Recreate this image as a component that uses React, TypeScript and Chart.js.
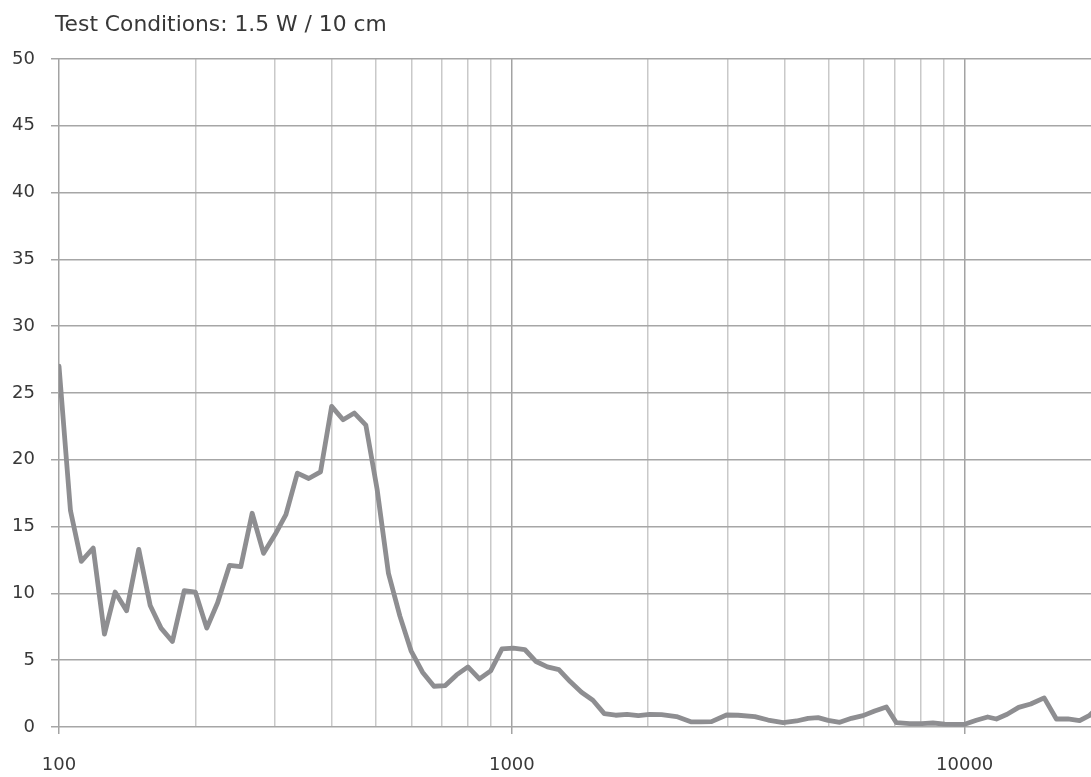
import React, { useEffect, useRef } from "react";
import { Chart, registerables } from "chart.js";

Chart.register(...registerables);

const TITLE = "Test Conditions: 1.5 W / 10 cm";

const freqs: number[] = [
  100, 106, 112, 119, 126, 133, 141, 150, 159, 168, 178, 189,
  200, 212, 224, 238, 252, 267, 283, 300, 317, 336, 356, 378,
  400, 424, 449, 476, 504, 534, 566, 599, 635, 673, 713, 755,
  800, 848, 898, 951, 1008, 1068, 1131, 1198, 1270, 1345, 1425, 1510,
  1600, 1695, 1796, 1903, 2016, 2141, 2310, 2493, 2614, 2760, 2979, 3160,
  3440, 3680, 3972, 4252, 4510, 4746, 4993, 5299, 5622, 5963, 6327, 6716,
  7066, 7558, 8040, 8511, 9035, 9553, 10000, 10610, 11240, 11750, 12410, 13160,
  13990, 14980, 15940, 16900, 17940, 18830, 19860,
];

const values: number[] = [
  27.0, 16.2, 12.4, 13.4, 6.95, 10.1, 8.7, 13.3, 9.1, 7.4, 6.4, 10.2,
  10.1, 7.4, 9.3, 12.1, 12.0, 16.0, 13.0, 14.4, 15.9, 19.0, 18.6, 19.1,
  24.0, 23.0, 23.5, 22.6, 17.8, 11.5, 8.3, 5.7, 4.1, 3.05, 3.1, 3.9,
  4.5, 3.6, 4.2, 5.85, 5.9, 5.8, 4.9, 4.5, 4.3, 3.4, 2.6, 2.0,
  1.0, 0.88, 0.95, 0.85, 0.95, 0.92, 0.78, 0.38, 0.38, 0.4, 0.9, 0.88,
  0.78, 0.52, 0.33, 0.45, 0.65, 0.7, 0.5, 0.35, 0.65, 0.85, 1.2, 1.5,
  0.32, 0.25, 0.25, 0.3, 0.22, 0.2, 0.2, 0.5, 0.75, 0.6, 0.95, 1.47,
  1.72, 2.18, 0.6, 0.6, 0.47, 0.85, 1.6,
];

const gridFreqs: number[] = [
  100, 200, 300, 400, 500, 600, 700, 800, 900,
  1000, 2000, 3000, 4000, 5000, 6000, 7000, 8000, 9000,
  10000, 20000,
];
const majorFreqs: number[] = [100, 1000, 10000];

const X_MIN = 100;
const X_MAX = 20000;
const Y_MIN = 0;
const Y_MAX = 50;
const Y_STEP = 5;

const FONT = '"DejaVu Sans", Verdana, sans-serif';
const TEXT_COLOR = "#383838";

const titlePlugin = {
  id: "titleText",
  afterDraw(chart: any) {
    const ctx = chart.ctx;
    ctx.save();
    ctx.font = `21.8px ${FONT}`;
    ctx.fillStyle = TEXT_COLOR;
    ctx.textBaseline = "middle";
    ctx.textAlign = "left";
    ctx.fillText(TITLE, 55, 25);
    ctx.restore();
  },
};

export default function App() {
  const ref = useRef<HTMLCanvasElement | null>(null);

  useEffect(() => {
    if (!ref.current) return;
    const chart = new Chart(ref.current, {
      type: "line",
      data: {
        datasets: [
          {
            data: freqs.map((f, i) => ({ x: f, y: values[i] })),
            borderColor: "#8e8e91",
            borderWidth: 4.8,
            pointRadius: 0,
            tension: 0,
            fill: false,
            borderJoinStyle: "round",
            borderCapStyle: "round",
          },
        ],
      },
      options: {
        responsive: false,
        animation: false,
        devicePixelRatio: 1,
        layout: { padding: { top: 59, right: 9, left: 0, bottom: 0 } },
        plugins: {
          legend: { display: false },
          tooltip: { enabled: false },
          title: { display: false },
        },
        scales: {
          x: {
            type: "logarithmic",
            min: X_MIN,
            max: X_MAX,
            afterBuildTicks: (scale: any) => {
              scale.ticks = gridFreqs.map((v) => ({ value: v, major: majorFreqs.includes(v) }));
            },
            afterFit: (scale: any) => {
              scale.height = 50;
              scale.paddingLeft = 0;
              scale.paddingRight = 0;
            },
            ticks: {
              autoSkip: false,
              maxRotation: 0,
              minRotation: 0,
              padding: 21,
              color: TEXT_COLOR,
              font: { family: FONT, size: 18 },
              callback: (v: any) => (majorFreqs.includes(Number(v)) ? String(v) : ""),
            },
            grid: {
              color: (c: any) =>
                majorFreqs.includes(c.tick?.value) ? "#a3a3a3" : "#c9c9c9",
              tickColor: (c: any) =>
                majorFreqs.includes(c.tick?.value) ? "#a3a3a3" : "rgba(0,0,0,0)",
              lineWidth: 1.5,
              tickLength: 7,
              drawTicks: true,
            },
            border: { display: false },
          },
          y: {
            type: "linear",
            min: Y_MIN,
            max: Y_MAX,
            afterFit: (scale: any) => {
              scale.width = 59;
              scale.paddingTop = 0;
              scale.paddingBottom = 0;
            },
            ticks: {
              stepSize: Y_STEP,
              padding: 16,
              color: TEXT_COLOR,
              font: { family: FONT, size: 18 },
            },
            grid: {
              color: "#a6a6a6",
              tickColor: "#a6a6a6",
              lineWidth: 1.5,
              tickLength: 8,
            },
            border: { display: false },
          },
        },
      },
      plugins: [titlePlugin],
    });
    return () => chart.destroy();
  }, []);

  return (
    <div style={{ position: "fixed", left: 0, top: 0, width: 1110, height: 777, background: "#ffffff" }}>
      <canvas ref={ref} width={1110} height={777} style={{ display: "block", width: 1110, height: 777 }} />
    </div>
  );
}
